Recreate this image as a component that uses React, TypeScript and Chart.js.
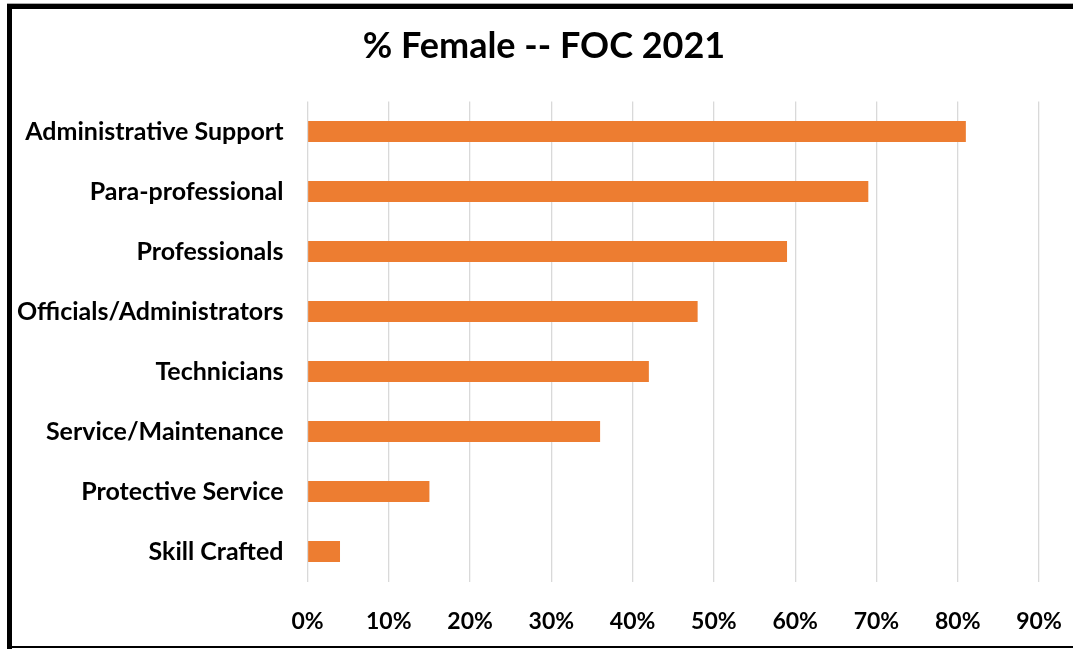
import React, { useEffect, useRef } from "react";
import { Chart, registerables } from "chart.js";

Chart.register(...registerables);

const categories = [
  "Administrative Support",
  "Para-professional",
  "Professionals",
  "Officials/Administrators",
  "Technicians",
  "Service/Maintenance",
  "Protective Service",
  "Skill Crafted",
];
const femalePct = [81, 69, 59, 48, 42, 36, 15, 4];
const titleText = "% Female -- FOC 2021";
const xTickMin = 0;
const xTickMax = 90;
const xTickStep = 10;

const FONT = "Lato, 'Open Sans', sans-serif";

export default function App() {
  const ref = useRef<HTMLCanvasElement | null>(null);

  useEffect(() => {
    if (!ref.current) return;
    const chart = new Chart(ref.current, {
      type: "bar",
      data: {
        labels: categories,
        datasets: [
          {
            label: "% Female",
            data: femalePct,
            backgroundColor: "#ED7D31",
            borderWidth: 0,
            categoryPercentage: 1,
            barPercentage: 0.35,
          },
        ],
      },
      options: {
        indexAxis: "y",
        animation: false,
        responsive: false,
        devicePixelRatio: 1,
        layout: { padding: { left: 15, right: 0, top: 0, bottom: 0 } },
        plugins: {
          legend: { display: false },
          tooltip: { enabled: false },
          title: {
            display: true,
            text: titleText,
            color: "#000",
            font: { family: FONT, size: 36, weight: "bold", lineHeight: 1.2 },
            padding: { top: 25, bottom: 33.3 },
          },
        },
        scales: {
          x: {
            min: xTickMin,
            max: xTickMax,
            afterFit: (s: any) => {
              s.height = 67.5;
              s.paddingRight = 34;
              s.paddingLeft = 0;
            },
            ticks: {
              stepSize: xTickStep,
              color: "#000",
              padding: 4,
              font: { family: FONT, size: 23, weight: "bold" },
              callback: (v: any) => v + "%",
            },
            grid: {
              color: "#d9d9d9",
              lineWidth: 1.3,
              drawTicks: true,
              tickLength: 22,
              tickColor: "rgba(0,0,0,0)",
            },
            border: { display: false },
          },
          y: {
            afterFit: (s: any) => {
              s.width = 292.5;
            },
            ticks: {
              color: "#000",
              padding: 24,
              font: { family: FONT, size: 25, weight: "bold" },
            },
            grid: { display: false, drawTicks: false },
            border: { display: false },
          },
        },
      },
    });
    return () => chart.destroy();
  }, []);

  return (
    <div
      style={{
        position: "fixed",
        left: 0,
        top: 0,
        width: 1073,
        height: 649,
        background: "#fff",
        overflow: "hidden",
      }}
    >
      <canvas ref={ref} width={1073} height={649} style={{ position: "absolute", left: 0, top: 0 }} />
      <div style={{ position: "absolute", left: 7, top: 3, width: 1066, height: 1, background: "#aaa" }} />
      <div style={{ position: "absolute", left: 7, top: 4, width: 1066, height: 5, background: "#000" }} />
      <div style={{ position: "absolute", left: 7, top: 4, width: 5, height: 645, background: "#000" }} />
      <div style={{ position: "absolute", left: 7, top: 646, width: 1066, height: 2, background: "#000" }} />
    </div>
  );
}
